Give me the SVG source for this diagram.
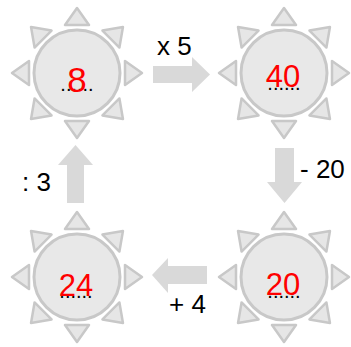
<svg xmlns="http://www.w3.org/2000/svg" xmlns:xlink="http://www.w3.org/1999/xlink" width="351" height="347" viewBox="0 0 351 347">
<style>
.ray{fill:#e6e6e6;stroke:#c8c8c8;stroke-width:2.5;stroke-linejoin:round}
.disc{fill:#e8e8e8;stroke:#c8c8c8;stroke-width:3}
.num{font-family:"Liberation Sans",Arial,sans-serif;font-size:31px;fill:#ff0000;text-anchor:middle}
.dots{font-family:"Liberation Sans",Arial,sans-serif;font-size:20px;fill:#000;text-anchor:middle}
.lbl{font-family:"Liberation Sans",Arial,sans-serif;font-size:26px;fill:#000}
.arr{fill:#d9d9d9}
</style>
<defs>
<g id="sun">
<polygon class="ray" points="0,-65 -12,-48 12,-48"/>
<polygon class="ray" points="0,-65 -12,-48 12,-48" transform="rotate(45)"/>
<polygon class="ray" points="0,-65 -12,-48 12,-48" transform="rotate(90)"/>
<polygon class="ray" points="0,-65 -12,-48 12,-48" transform="rotate(135)"/>
<polygon class="ray" points="0,-65 -12,-48 12,-48" transform="rotate(180)"/>
<polygon class="ray" points="0,-65 -12,-48 12,-48" transform="rotate(225)"/>
<polygon class="ray" points="0,-65 -12,-48 12,-48" transform="rotate(270)"/>
<polygon class="ray" points="0,-65 -12,-48 12,-48" transform="rotate(315)"/>
<circle class="disc" r="43"/>
</g>
</defs>
<g id="connectors">
<polygon class="arr" points="153,66 192,66 192,57 210,74.5 192,92 192,83 153,83"/>
<polygon class="arr" points="275,148 294,148 294,182 302,182 284.5,203 267,182 275,182"/>
<polygon class="arr" points="67,203 67,165 58,165 75.5,145 93,165 84,165 84,203"/>
<polygon class="arr" points="207,266 168,266 168,258 152,275 168,293 168,284 207,284"/>
<text class="lbl" x="157" y="55">x 5</text>
<text class="lbl" x="300" y="178">- 20</text>
<text class="lbl" x="22" y="191">: 3</text>
<text class="lbl" x="169" y="313">+ 4</text>
</g>
<g id="node-8">
<use xlink:href="#sun" x="77" y="73"/>
<text class="dots" x="77" y="91">......</text>
<text class="num" x="77" y="92" style="font-size:35px">8</text>
</g>
<g id="node-40">
<use xlink:href="#sun" x="284" y="73"/>
<text class="dots" x="284" y="90">......</text>
<text class="num" x="283" y="87">40</text>
</g>
<g id="node-20">
<use xlink:href="#sun" x="284" y="277"/>
<text class="dots" x="284" y="298">......</text>
<text class="num" x="283" y="295">20</text>
</g>
<g id="node-24">
<use xlink:href="#sun" x="77" y="277"/>
<text class="dots" x="76" y="298">......</text>
<text class="num" x="76" y="296">24</text>
</g>
</svg>
